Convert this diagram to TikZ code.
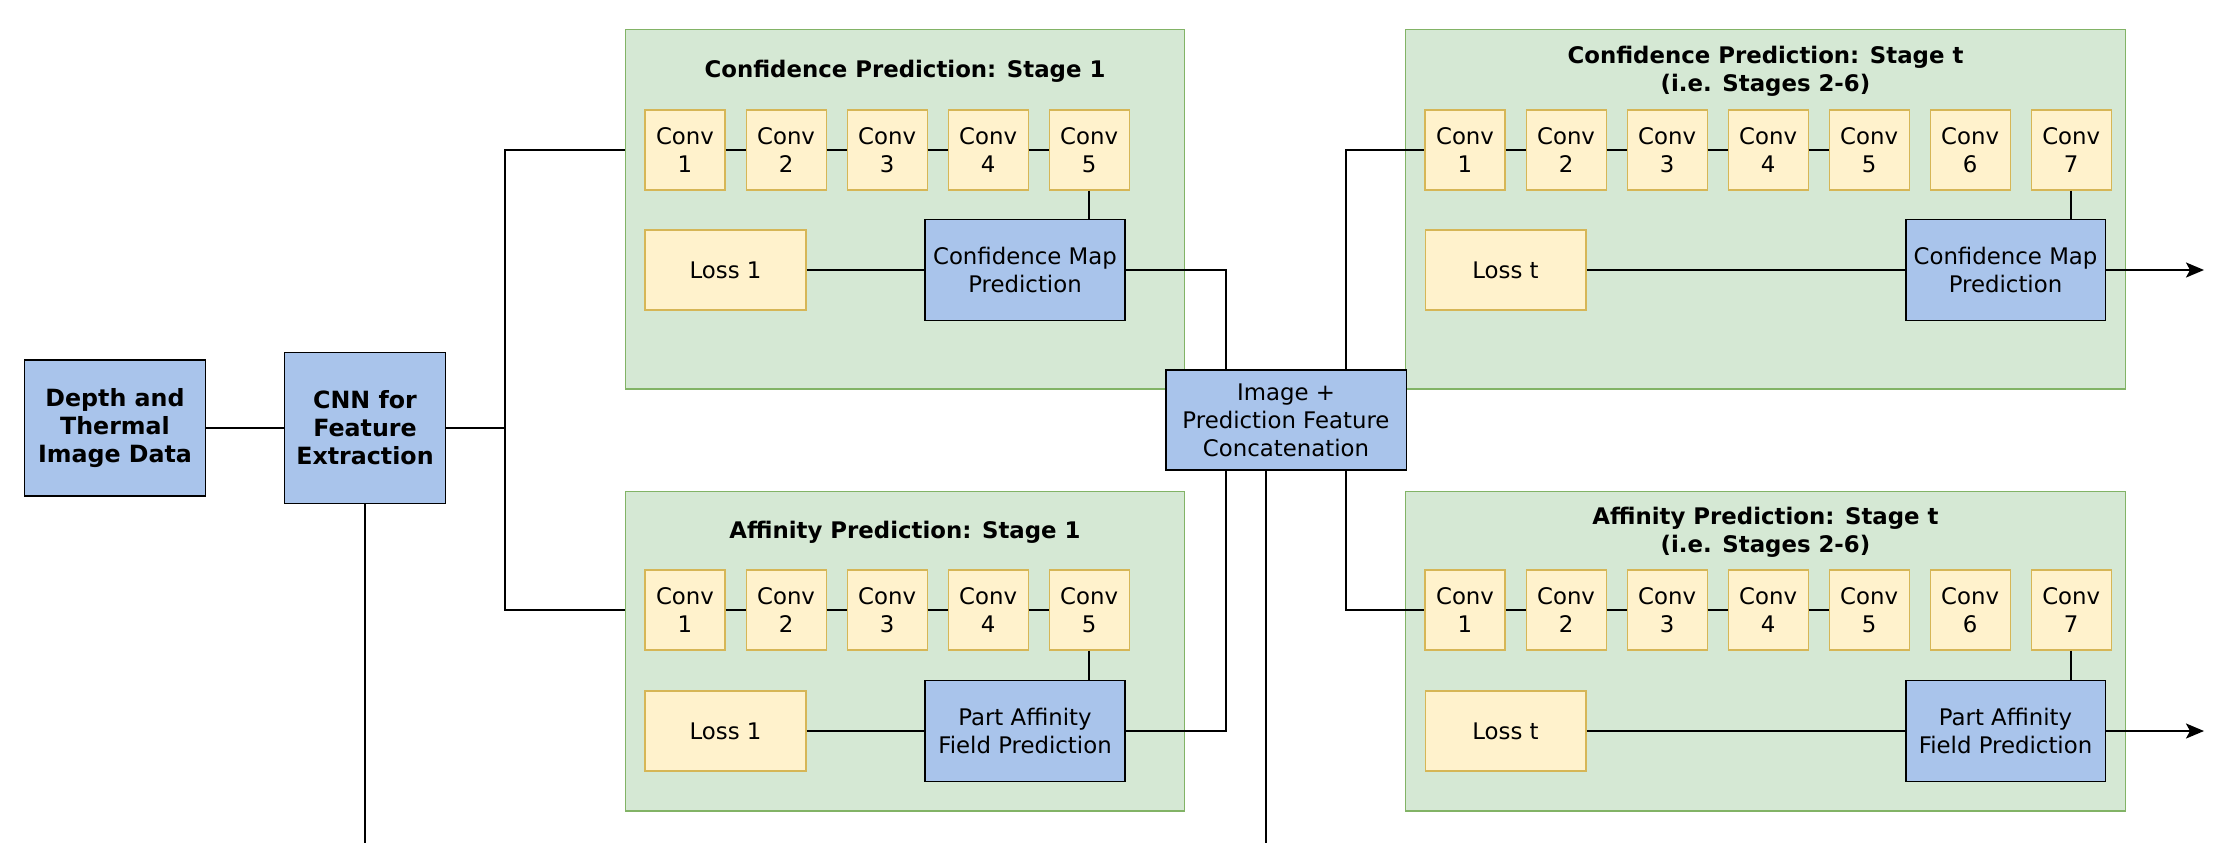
\documentclass[tikz,border=0pt]{standalone}
\usepackage{fontspec}
\setmainfont{DejaVu Sans}
\usetikzlibrary{arrows.meta,positioning}
\definecolor{bluefill}{HTML}{A9C4EB}
\definecolor{convfill}{HTML}{FFF2CC}
\definecolor{convdraw}{HTML}{D6B656}
\definecolor{stagefill}{HTML}{D5E8D4}
\definecolor{stagedraw}{HTML}{82B366}

\begin{document}
\begin{tikzpicture}[x=0.02cm, y=-0.02cm, line width=1.1pt,
    font=\fontsize{13}{16}\selectfont,
    stagebox/.style={draw=stagedraw, fill=stagefill, line width=0.6pt, inner sep=0pt},
    titletext/.style={font=\fontsize{13}{16}\selectfont\bfseries, align=center},
    convbox/.style={draw=convdraw, fill=convfill, line width=0.6pt, minimum width=1.6cm, minimum height=1.6cm, inner sep=0pt, align=center},
    lossbox/.style={draw=convdraw, fill=convfill, line width=0.6pt, minimum width=3.22cm, minimum height=1.6cm, inner sep=0pt},
    bluebox/.style={draw, fill=bluefill, inner sep=0pt, align=center},
    predbox/.style={bluebox, minimum width=4cm, minimum height=2.02cm},
    outarrow/.style={-{Stealth[length=0.36cm, width=0.3cm, inset=0.08cm]}}]
  \useasboundingbox (0,0) rectangle (2218,843);

  \node [stagebox, minimum width=11.2cm, minimum height=7.2cm] (conf1) at (905,209) {};
  \node [stagebox, minimum width=11.2cm, minimum height=6.4cm] (aff1) at (905,651) {};
  \node [stagebox, minimum width=14.42cm, minimum height=7.2cm] (conft) at (1765.5,209) {};
  \node [stagebox, minimum width=14.42cm, minimum height=6.4cm] (afft) at (1765.5,651) {};
  \node [titletext] (conf1title) at (905,71) {Confidence Prediction: Stage 1};
  \node [titletext] (aff1title) at (905,532) {Affinity Prediction: Stage 1};
  \node [titletext] (confttitle) at (1765.5,71) {Confidence Prediction: Stage t\\(i.e. Stages 2-6)};
  \node [titletext] (affttitle) at (1765.5,532) {Affinity Prediction: Stage t\\(i.e. Stages 2-6)};

  \node [bluebox, font=\fontsize{13.5}{16}\selectfont\bfseries, minimum width=3.62cm, minimum height=2.72cm] (depth) at (115,428) {Depth and\\Thermal\\Image Data};
  \node [bluebox, font=\fontsize{13.5}{16}\selectfont\bfseries, minimum width=3.22cm, minimum height=3.02cm] (cnn) at (365,428) {CNN for\\Feature\\Extraction};
  \node [bluebox, minimum width=4.82cm, minimum height=2cm] (concat) at (1286,420) {Image +\\Prediction Feature\\Concatenation};

  \node [convbox] (ca1) at (685,150) {Conv\\1};
  \node [convbox] (aa1) at (685,610) {Conv\\1};
  \foreach \i [count=\j from 2] in {1,...,4} {
    \node [convbox, right=0.4cm of ca\i] (ca\j) {Conv\\\j};
    \node [convbox, right=0.4cm of aa\i] (aa\j) {Conv\\\j};
  }
  \node [convbox] (ct1) at (1465,150) {Conv\\1};
  \node [convbox] (at1) at (1465,610) {Conv\\1};
  \foreach \i [count=\j from 2] in {1,...,6} {
    \node [convbox, right=0.4cm of ct\i] (ct\j) {Conv\\\j};
    \node [convbox, right=0.4cm of at\i] (at\j) {Conv\\\j};
  }

  \node [lossbox] (la) at (725.5,270) {Loss 1};
  \node [lossbox] (lb) at (725.5,731) {Loss 1};
  \node [lossbox] (lta) at (1505.5,270) {Loss t};
  \node [lossbox] (ltb) at (1505.5,731) {Loss t};
  \node [predbox] (pa) at (1025,270) {Confidence Map\\Prediction};
  \node [predbox] (pb) at (1025,731) {Part Affinity\\Field Prediction};
  \node [predbox] (pta) at (2005.5,270) {Confidence Map\\Prediction};
  \node [predbox] (ptb) at (2005.5,731) {Part Affinity\\Field Prediction};

  \coordinate (split) at (505,428);
  \coordinate (cnnend) at (365,843);
  \coordinate (catend) at (1266,843);
  \coordinate (outa) at (2204,270);
  \coordinate (outb) at (2204,731);

  \draw (depth) -- (cnn);
  \draw (cnn) -- (split);
  \draw (split) |- (conf1.west |- ca1);
  \draw (split) |- (aff1.west |- aa1);
  \draw (cnn) -- (cnnend);
  \foreach \i [count=\j from 2] in {1,...,4} {
    \draw (ca\i) -- (ca\j);
    \draw (aa\i) -- (aa\j);
    \draw (ct\i) -- (ct\j);
    \draw (at\i) -- (at\j);
  }
  \draw (ca5) -- (ca5 |- pa.north);
  \draw (aa5) -- (aa5 |- pb.north);
  \draw (ct7) -- (ct7 |- pta.north);
  \draw (at7) -- (at7 |- ptb.north);
  \draw (la) -- (pa);
  \draw (lb) -- (pb);
  \draw (lta) -- (pta);
  \draw (ltb) -- (ptb);
  \draw (pa) -| ([xshift=-1.2cm]concat.north);
  \draw (pb) -| ([xshift=-1.2cm]concat.south);
  \draw ([xshift=1.2cm]concat.north) |- (ct1);
  \draw ([xshift=1.2cm]concat.south) |- (at1);
  \draw (concat.south -| catend) -- (catend);
  \draw [outarrow] (pta) -- (outa);
  \draw [outarrow] (ptb) -- (outb);
\end{tikzpicture}
\end{document}
